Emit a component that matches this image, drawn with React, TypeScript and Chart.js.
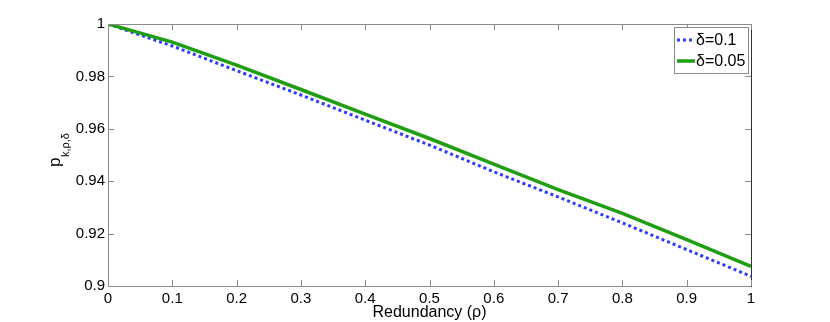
import React, { useEffect, useRef } from "react";
import { Chart, registerables } from "chart.js";

Chart.register(...registerables);

const rho = [0, 0.1, 0.2, 0.3, 0.4, 0.5, 0.6, 0.7, 0.8, 0.9, 1.0];
const pDelta01 = [1, 0.9916, 0.9822, 0.9729, 0.9633, 0.9538, 0.9436, 0.934, 0.9241, 0.9139, 0.9037];
const pDelta005 = [1, 0.9931, 0.9843, 0.975, 0.9656, 0.9563, 0.9465, 0.9368, 0.9277, 0.9177, 0.9075];
const seriesLabels = ["δ=0.1", "δ=0.05"];
const xTicks = [0, 0.1, 0.2, 0.3, 0.4, 0.5, 0.6, 0.7, 0.8, 0.9, 1];
const yTicks = [0.9, 0.92, 0.94, 0.96, 0.98, 1];
const xTitle = "Redundancy (ρ)";
const yTitleMain = "p";
const yTitleSub = "k,ρ,δ";

const FONT = "'Liberation Sans', Arial, Helvetica, sans-serif";
const BLUE = "#2b3cff";
const GREEN = "#1f9e12";

const framePlugin = {
  id: "frame",
  afterDatasetsDraw(chart: any) {
    const ctx = chart.ctx;
    const a = chart.chartArea;
    const xs = chart.scales.x;
    const ys = chart.scales.y;
    ctx.save();
    // box
    ctx.lineWidth = 1;
    ctx.strokeStyle = "#8a8a8a";
    ctx.beginPath();
    ctx.moveTo(a.left + 0.5, a.bottom + 0.5);
    ctx.lineTo(a.left + 0.5, a.top + 0.5);
    ctx.lineTo(a.right + 0.5, a.top + 0.5);
    ctx.moveTo(a.left + 0.5, a.bottom + 0.5);
    ctx.lineTo(a.right + 0.5, a.bottom + 0.5);
    ctx.stroke();
    ctx.strokeStyle = "#333333";
    ctx.beginPath();
    ctx.moveTo(a.right + 0.5, a.top);
    ctx.lineTo(a.right + 0.5, a.bottom + 1);
    ctx.stroke();
    // inside ticks
    ctx.strokeStyle = "#8a8a8a";
    const tl = 6;
    ctx.beginPath();
    xTicks.forEach((v) => {
      const px = Math.round(xs.getPixelForValue(v)) + 0.5;
      ctx.moveTo(px, a.bottom);
      ctx.lineTo(px, a.bottom - tl);
      ctx.moveTo(px, a.top);
      ctx.lineTo(px, a.top + tl);
    });
    yTicks.forEach((v) => {
      const py = Math.round(ys.getPixelForValue(v)) + 0.5;
      ctx.moveTo(a.left, py);
      ctx.lineTo(a.left + tl, py);
      ctx.moveTo(a.right, py);
      ctx.lineTo(a.right - tl, py);
    });
    ctx.stroke();

    // legend
    const lx = 674, ly = 27, lw = 74, lh = 46;
    ctx.fillStyle = "#ffffff";
    ctx.fillRect(lx, ly, lw, lh);
    ctx.strokeStyle = "#8a8a8a";
    ctx.strokeRect(lx + 0.5, ly + 0.5, lw, lh);
    const rows = [ly + 13, ly + 34];
    chart.data.datasets.forEach((ds: any, i: number) => {
      const y = rows[i];
      ctx.save();
      ctx.strokeStyle = ds.borderColor;
      ctx.lineWidth = ds.borderWidth;
      ctx.setLineDash(ds.borderDash || []);
      ctx.beginPath();
      ctx.moveTo(lx + 3, y);
      ctx.lineTo(lx + 21, y);
      ctx.stroke();
      ctx.restore();
      ctx.fillStyle = "#000";
      ctx.font = `16px ${FONT}`;
      ctx.textBaseline = "middle";
      ctx.textAlign = "left";
      ctx.fillText(ds.label, lx + 22, y + 1);
    });

    // x title
    ctx.fillStyle = "#000";
    ctx.font = `16px ${FONT}`;
    ctx.textAlign = "center";
    ctx.textBaseline = "alphabetic";
    ctx.fillText(xTitle, (a.left + a.right) / 2, 317);

    // y title
    ctx.save();
    ctx.translate(60, 167);
    ctx.rotate(-Math.PI / 2);
    ctx.textAlign = "left";
    ctx.textBaseline = "alphabetic";
    ctx.font = `17px ${FONT}`;
    ctx.fillText(yTitleMain, 0, 0);
    const w = ctx.measureText(yTitleMain).width;
    ctx.font = `11px ${FONT}`;
    ctx.fillText(yTitleSub, w + 0.5, 9);
    ctx.restore();

    ctx.restore();
  },
};

export default function App() {
  const ref = useRef<HTMLCanvasElement | null>(null);
  useEffect(() => {
    document.body.style.margin = "0";
    const canvas = ref.current!;
    const fmt = (v: number) => String(Number(v.toFixed(2)));
    const chart = new Chart(canvas, {
      type: "line",
      data: {
        datasets: [
          {
            label: seriesLabels[0],
            data: rho.map((x, i) => ({ x, y: pDelta01[i] })),
            borderColor: BLUE,
            borderWidth: 3,
            borderDash: [3, 3],
            pointRadius: 0,
            fill: false,
            tension: 0,
            order: 1,
          },
          {
            label: seriesLabels[1],
            data: rho.map((x, i) => ({ x, y: pDelta005[i] })),
            borderColor: GREEN,
            borderWidth: 3.5,
            pointRadius: 0,
            fill: false,
            tension: 0,
            order: 0,
          },
        ],
      },
      options: {
        responsive: false,
        animation: false,
        devicePixelRatio: 1,
        layout: { padding: { left: 0, top: 24, right: 79, bottom: 0 } },
        plugins: { legend: { display: false }, tooltip: { enabled: false } },
        scales: {
          x: {
            type: "linear",
            min: 0,
            max: 1,
            afterBuildTicks: (s: any) => {
              s.ticks = xTicks.map((v) => ({ value: v }));
            },
            afterFit: (s: any) => {
              s.height = 36;
            },
            grid: { display: false, drawTicks: false, tickLength: 0 },
            border: { display: false },
            ticks: {
              padding: 4,
              maxRotation: 0,
              autoSkip: false,
              color: "#000",
              font: { family: FONT, size: 15 },
              callback: (v: any) => fmt(Number(v)),
            },
          },
          y: {
            type: "linear",
            min: 0.9,
            max: 1,
            afterBuildTicks: (s: any) => {
              s.ticks = yTicks.map((v) => ({ value: v }));
            },
            afterFit: (s: any) => {
              s.width = 108;
            },
            grid: { display: false, drawTicks: false, tickLength: 0 },
            border: { display: false },
            ticks: {
              padding: 3,
              autoSkip: false,
              color: "#000",
              font: { family: FONT, size: 15 },
              callback: (v: any) => fmt(Number(v)),
            },
          },
        },
      },
      plugins: [framePlugin],
    });
    return () => chart.destroy();
  }, []);
  return (
    <div style={{ position: "absolute", left: 0, top: 0, width: 830, height: 322, background: "#fff" }}>
      <canvas ref={ref} width={830} height={322} style={{ width: 830, height: 322, display: "block" }} />
    </div>
  );
}
